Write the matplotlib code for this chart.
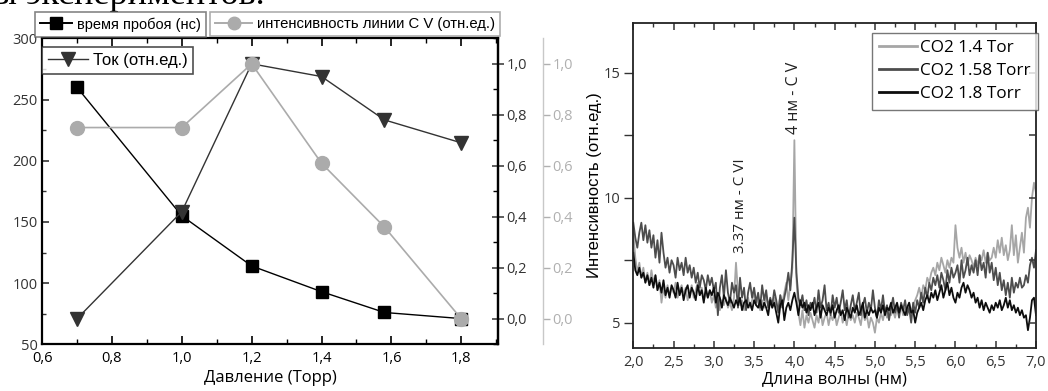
import numpy as np
import matplotlib
matplotlib.use("Agg")
import matplotlib.pyplot as plt
from matplotlib.ticker import MultipleLocator, FuncFormatter
from matplotlib.lines import Line2D

plt.rcParams['font.family'] = ['Open Sans', 'DejaVu Sans']

# ---------------- data: left panel ----------------
pressure = [0.7, 1.0, 1.2, 1.4, 1.58, 1.8]
breakdown_time = [260, 155, 114, 93, 76, 71]          # ns, left axis
current_rel = [0.0, 0.42, 1.0, 0.95, 0.78, 0.69]       # rel. units, black right axis
intensity_cv = [0.75, 0.75, 1.0, 0.61, 0.36, 0.0]      # rel. units, gray right axis

# ---------------- data: right panel ----------------
wl_start, wl_stop, wl_n = 2.0, 7.0, 201
wavelength = np.linspace(wl_start, wl_stop, wl_n)

spec_1p4 = [
    8.6, 7.6, 7.0, 7.4, 6.8, 7.2, 6.6, 7.0, 6.5, 7.1,
    6.6, 6.9, 6.3, 6.7, 5.8, 6.4, 6.0, 6.5, 6.1, 6.4,
    6.2, 6.6, 6.0, 6.3, 6.5, 6.1, 6.4, 5.9, 6.2, 6.5,
    6.0, 6.3, 6.6, 6.1, 6.4, 5.9, 6.2, 6.0, 6.3, 5.8,
    6.1, 5.6, 6.0, 5.5, 5.9, 5.7, 6.0, 5.6, 5.8, 5.5,
    6.0, 7.4, 6.2, 5.7, 5.9, 5.5, 5.8, 6.0, 5.6, 5.9,
    6.2, 5.7, 6.0, 5.5, 5.9, 5.6, 6.1, 5.7, 5.9, 5.6,
    6.0, 5.7, 5.5, 6.1, 5.8, 6.2, 6.6, 5.9, 6.5, 7.2,
    12.3, 6.8, 5.4, 4.9, 5.5, 4.8, 5.3, 5.0, 5.4, 5.1,
    4.8, 5.3, 5.0, 5.5, 4.9, 5.2, 5.4, 4.9, 5.3, 5.1,
    5.4, 4.9, 5.2, 5.5, 5.0, 5.3, 4.9, 5.4, 5.1, 5.3,
    5.0, 5.4, 5.2, 4.9, 5.5, 5.1, 5.3, 4.8, 5.2, 5.0,
    4.6, 5.2, 5.0, 5.4, 5.1, 5.5, 5.2, 5.6, 5.3, 5.5,
    5.2, 5.6, 5.4, 5.7, 5.3, 5.6, 5.5, 5.8, 5.4, 5.7,
    5.9, 6.1, 6.4, 6.0, 6.5, 6.3, 6.8, 6.6, 7.0, 7.2,
    6.9, 7.4, 7.1, 7.6, 7.3, 7.0, 7.5, 7.2, 7.6, 7.4,
    8.9, 8.0, 7.6, 8.0, 7.4, 7.8, 7.3, 7.7, 7.5, 7.2,
    7.6, 7.3, 7.7, 7.5, 7.9, 7.4, 7.8, 7.5, 7.6, 8.0,
    7.6, 8.3, 7.8, 8.4, 7.7, 8.1, 7.5, 7.9, 8.9, 7.7,
    8.5, 7.4, 8.0, 8.6, 7.8, 9.2, 9.6, 8.8, 10.0, 10.6,
    10.2,
]
spec_1p58 = [
    9.0, 8.4, 8.0, 8.6, 9.0, 8.3, 8.9, 8.2, 8.7, 8.0,
    8.5, 7.6, 8.3, 7.4, 8.6, 7.8, 7.2, 7.6, 7.0, 7.5,
    7.3, 6.8, 7.6, 7.1, 7.4, 6.9, 7.6, 7.0, 7.3, 6.8,
    7.2, 6.6, 7.0, 6.4, 6.9, 6.7, 6.3, 6.9, 6.5, 6.8,
    6.3, 6.6, 5.3, 6.4, 6.9, 6.0, 7.1, 6.2, 5.8, 6.6,
    6.2, 6.5, 5.6, 6.8, 6.0, 6.4, 5.5, 6.2, 6.6, 6.0,
    6.4, 5.8, 6.2, 5.6, 6.5, 5.9, 6.3, 5.6, 6.0, 5.7,
    6.3, 5.9, 5.4, 6.1, 5.6, 6.0, 6.4, 7.0, 6.3, 7.5,
    9.2, 7.0, 6.0, 5.7, 6.1, 5.5, 5.9, 5.3, 5.8, 5.6,
    6.0, 5.4, 6.3, 5.6, 5.9, 6.5, 5.5, 5.8, 5.3, 6.1,
    5.6, 6.0, 5.4, 5.8, 6.3, 5.5, 5.9, 5.2, 5.7, 6.1,
    5.5, 5.8, 6.2, 5.3, 5.7, 6.0, 5.4, 5.8, 5.5, 6.3,
    5.6, 5.2, 5.9, 5.5, 6.1, 5.4, 5.7, 5.1, 5.6, 6.0,
    5.4, 5.7, 5.2, 5.8, 5.5, 5.9, 5.3, 5.6, 5.0, 5.8,
    5.4, 5.9, 5.6, 6.2, 5.8, 6.4, 6.0, 6.6, 6.3, 6.8,
    6.5, 6.9, 6.4, 7.0, 6.7, 6.3, 7.1, 6.6, 7.2, 6.8,
    7.0, 7.3, 6.6, 7.5, 6.8, 7.1, 7.6, 6.9, 7.3, 7.0,
    7.5, 6.9, 7.7, 7.1, 7.4, 6.8, 7.8, 7.0, 7.4, 6.7,
    7.2, 6.5, 7.0, 6.3, 6.7, 6.1, 6.6, 6.0, 6.8, 6.2,
    6.6, 6.4, 6.8, 6.4, 6.5, 6.9, 6.6, 7.3, 7.6, 7.2,
    7.9,
]
spec_1p8 = [
    7.8, 7.1, 6.9, 7.2, 6.8, 7.0, 6.6, 6.9, 6.5, 6.8,
    6.4, 6.9, 6.3, 6.6, 6.2, 6.7, 6.1, 6.4, 6.0, 6.5,
    6.3, 6.0, 6.6, 6.1, 6.4, 5.9, 6.3, 6.5, 6.0, 6.4,
    6.2, 5.9, 6.5, 6.1, 6.3, 5.8, 6.4, 6.0, 6.3, 6.1,
    6.4, 5.8, 6.2, 6.0, 5.6, 6.1, 5.9, 5.7, 6.0, 5.8,
    5.6, 5.9, 5.7, 6.0, 5.5, 5.8, 5.9, 5.6, 5.8, 5.5,
    5.9, 5.7, 5.6, 5.9, 5.5, 5.8, 5.6, 5.3, 5.9, 5.6,
    5.8, 5.4, 5.0, 5.7, 5.9, 5.1, 5.6, 5.8, 5.5, 5.9,
    6.2, 5.8, 5.3, 5.9, 5.6, 5.8, 5.4, 5.7, 5.5, 5.8,
    5.3, 5.6, 5.8, 5.2, 5.7, 5.5, 5.3, 5.6, 5.4, 5.7,
    5.2, 5.5, 5.7, 5.3, 5.5, 5.1, 5.6, 5.4, 5.2, 5.6,
    5.4, 5.7, 5.3, 5.5, 5.8, 5.2, 5.5, 5.3, 5.6, 5.4,
    5.5, 5.2, 5.6, 5.4, 5.7, 5.3, 5.6, 5.5, 5.8, 5.4,
    5.6, 5.8, 5.4, 5.7, 5.5, 5.3, 5.6, 5.8, 5.4, 5.5,
    5.0, 5.4, 5.6, 5.8, 5.5, 5.9, 6.1, 5.8, 6.2, 6.0,
    6.3, 5.9, 6.2, 6.5, 6.0, 6.3, 6.6, 6.1, 6.4, 6.0,
    5.8, 6.2, 6.0, 6.4, 6.6, 6.2, 6.5, 6.3, 6.0, 6.2,
    5.8, 6.0, 5.6, 5.9, 5.5, 5.8, 5.6, 5.4, 5.7, 5.5,
    5.8, 5.6, 5.9, 5.5, 5.7, 6.0, 5.6, 5.9, 5.5, 5.7,
    5.4, 5.6, 5.3, 5.5, 5.2, 5.3, 4.7, 5.2, 5.9, 6.0,
    5.3,
]
spec_labels = ["CO2 1.4 Tor", "CO2 1.58 Torr", "CO2 1.8 Torr"]

comma = FuncFormatter(lambda v, p: f"{v:.1f}".replace('.', ','))
intfmt = FuncFormatter(lambda v, p: f"{v:.0f}")

W, H = 1048, 391
fig = plt.figure(figsize=(W / 100, H / 100), dpi=100)
fig.patch.set_facecolor('white')

def fx(px):
    return px / W

def fy(py):
    return 1 - py / H

# partially visible text from the page above (clipped at the top)
fig.text(fx(265), fy(4), "ты экспериментов.", ha='right', va='baseline',
         family='Liberation Serif', fontsize=26, color='black')

# ================= left panel =================
ax1 = fig.add_axes([fx(42), fy(344.3), fx(456), 306 / H])
ax2 = ax1.twinx()
ax3 = ax1.twinx()

ax1.plot(pressure, breakdown_time, '-', color='black', lw=1.0,
         marker='s', ms=9, mfc='black', mec='black', zorder=3)
ax2.plot(pressure, current_rel, '-', color='#333333', lw=1.0,
         marker='v', ms=10, mfc='#333333', mec='#333333', zorder=3)
ax3.plot(pressure, intensity_cv, '-', color='#ababab', lw=1.2,
         marker='o', ms=10, mfc='#ababab', mec='#ababab', zorder=3)

ax1.set_xlim(0.6, 1.905)
ax1.set_ylim(50, 300)
ax2.set_ylim(-0.1, 1.1)
ax3.set_ylim(-0.1, 1.1)

ax1.xaxis.set_major_locator(MultipleLocator(0.2))
ax1.xaxis.set_minor_locator(MultipleLocator(0.1))
ax1.xaxis.set_major_formatter(comma)
ax1.yaxis.set_major_locator(MultipleLocator(50))
ax1.yaxis.set_minor_locator(MultipleLocator(25))
ax1.tick_params(axis='x', which='both', direction='in', top=True, bottom=True,
                labelsize=10.5, pad=5, colors='black')
ax1.tick_params(axis='x', which='major', length=6, width=1.2)
ax1.tick_params(axis='x', which='minor', length=3.5, width=1)
ax1.tick_params(axis='y', which='both', direction='in', right=False, left=True,
                labelsize=10.5, pad=3, colors='#333333')
ax1.tick_params(axis='y', which='major', length=5, width=1.2)
ax1.tick_params(axis='y', which='minor', length=3, width=1)
for sp in ax1.spines.values():
    sp.set_linewidth(1.6)
    sp.set_color('black')
ax1.set_xlabel("Давление (Торр)", fontsize=12, labelpad=3)

for a in (ax2, ax3):
    a.yaxis.set_major_locator(MultipleLocator(0.2))
    a.yaxis.set_minor_locator(MultipleLocator(0.1))
    a.yaxis.set_major_formatter(comma)
    for s in ('top', 'bottom', 'left'):
        a.spines[s].set_visible(False)

ax2.spines['right'].set_linewidth(1.6)
ax2.spines['right'].set_color('black')
ax2.tick_params(axis='y', which='major', direction='inout', length=8, width=1.1,
                labelsize=10.5, pad=2, colors='#333333')
ax2.tick_params(axis='y', which='minor', direction='in', length=3.5, width=1)

ax3.spines['right'].set_position(('outward', 45 * 0.72))
ax3.spines['right'].set_color('#c8c8c8')
ax3.spines['right'].set_linewidth(1.0)
ax3.tick_params(axis='y', which='major', direction='out', length=5, width=1.0,
                labelsize=10.5, pad=2, colors='#b0b0b0')
ax3.tick_params(axis='y', which='minor', direction='out', length=0)

def make_leg(parent, handle, text, px, py, size, hl):
    lg = parent.legend([handle], [text], loc='upper left', borderaxespad=0,
                       bbox_to_anchor=(fx(px), fy(py)), bbox_transform=fig.transFigure,
                       frameon=True, fancybox=False, shadow=False,
                       handlelength=hl, handletextpad=0.3, borderpad=0.35,
                       prop={'family': 'Liberation Sans', 'size': size})
    return lg

h1 = Line2D([], [], color='black', lw=1.4, marker='s', ms=8, mfc='black', mec='black')
h2 = Line2D([], [], color='#ababab', lw=1.4, marker='o', ms=9, mfc='#ababab', mec='#ababab')
h3 = Line2D([], [], color='#333333', lw=1.0, marker='v', ms=10, mfc='#333333', mec='#333333')

lg1 = make_leg(fig, h1, "время пробоя (нс)", 35, 12, 10.5, 2.2)
lg2 = make_leg(fig, h2, "интенсивность линии C V (отн.ед.)", 210, 12, 10.7, 2.5)
lg3 = make_leg(ax3, h3, "Ток (отн.ед.)", 42, 47, 12, 2.4)
for lg, ec in ((lg1, '#666666'), (lg2, '#999999'), (lg3, '#222222')):
    lg.get_frame().set_edgecolor(ec)
    lg.get_frame().set_linewidth(1.2)

# ================= right panel =================
axr = fig.add_axes([fx(633.3), fy(347.7), fx(402.7), 325 / H])
spec_colors = ['#a6a6a6', '#4d4d4d', '#0d0d0d']
for ys, c, lab in zip((spec_1p4, spec_1p58, spec_1p8), spec_colors, spec_labels):
    axr.plot(wavelength, ys, '-', color=c, lw=1.3, label=lab)

axr.set_xlim(2.0, 7.0)
axr.set_ylim(4.0, 17.0)
axr.xaxis.set_major_locator(MultipleLocator(0.5))
axr.xaxis.set_minor_locator(MultipleLocator(0.25))
axr.xaxis.set_major_formatter(comma)
axr.yaxis.set_major_locator(MultipleLocator(5))
axr.yaxis.set_minor_locator(MultipleLocator(2.5))
axr.yaxis.set_major_formatter(intfmt)
axr.tick_params(axis='x', which='both', direction='in', top=True, bottom=True,
                labelsize=10.5, colors='#333333', pad=5)
axr.tick_params(axis='x', which='major', length=5, width=1.1)
axr.tick_params(axis='x', which='minor', length=3, width=1)
axr.tick_params(axis='y', which='both', direction='out', left=True, right=False,
                length=6.5, width=1.0, labelsize=10.5, colors='#333333', pad=3)
for sp in axr.spines.values():
    sp.set_linewidth(1.3)
    sp.set_color('#222222')
axr.set_xlabel("Длина волны (нм)", fontsize=12, labelpad=1)
axr.set_ylabel("Интенсивность (отн.ед.)", fontsize=12, labelpad=1,
               family='Liberation Sans')

# inward ticks on the right spine via a twin axis
axr_r = axr.twinx()
axr_r.set_ylim(axr.get_ylim())
axr_r.yaxis.set_major_locator(MultipleLocator(2.5))
axr_r.tick_params(axis='y', which='major', direction='in', length=5, width=1.1,
                  labelright=False, colors='#333333')
for sp in axr_r.spines.values():
    sp.set_visible(False)

axr.text(3.33, 9.67, "3.37 нм - C VI", rotation=90, ha='center', va='center',
         fontsize=11, color='#222222')
axr.text(3.99, 14.0, "4 нм - C V", rotation=90, ha='center', va='center',
         fontsize=11.5, color='#222222')

lgr = axr_r.legend(*axr.get_legend_handles_labels(), loc='upper left',
                   bbox_to_anchor=(fx(871.7), fy(32.7)),
                   bbox_transform=fig.transFigure, borderaxespad=0, fancybox=False,
                   handlelength=2.2, handletextpad=0.15, borderpad=0.45,
                   labelspacing=0.4, prop={'family': 'Open Sans', 'size': 12.3})
lgr.get_frame().set_edgecolor('#555555')
lgr.get_frame().set_linewidth(1.0)
for line in lgr.get_lines():
    line.set_linewidth(2.0)

fig.savefig("out.png", dpi=100, facecolor='white')
